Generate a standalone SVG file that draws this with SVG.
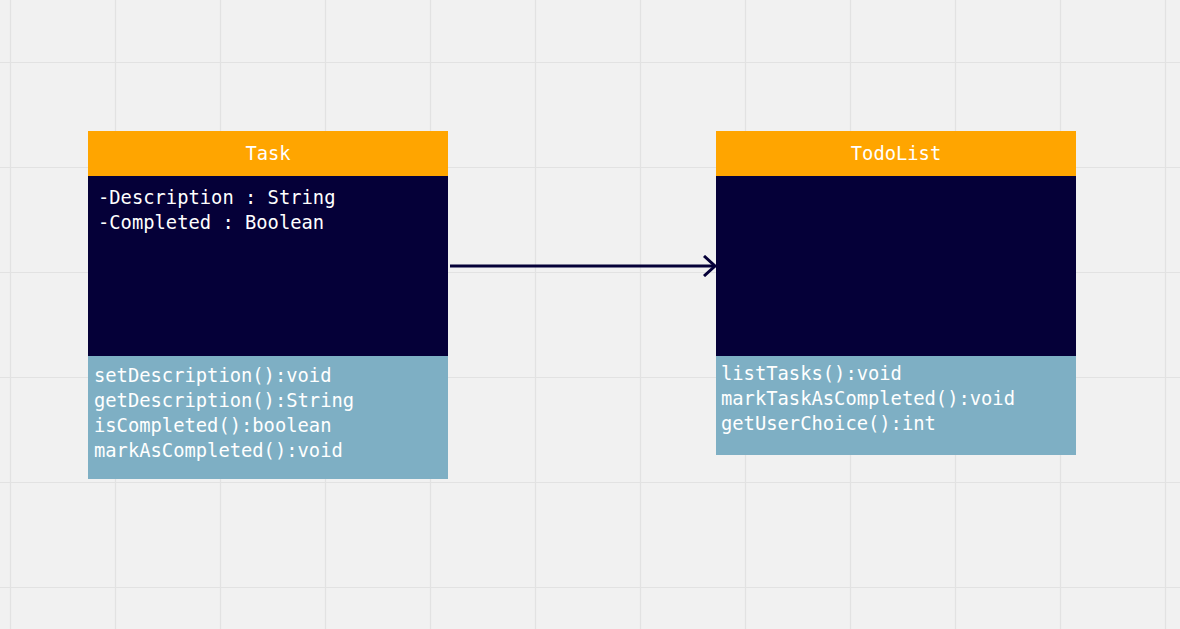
<svg xmlns="http://www.w3.org/2000/svg" width="1180" height="629" viewBox="0 0 1180 629">
<defs>
<style>
.grid{stroke:#e2e2e2;stroke-width:1.2;fill:none}
.hdr{fill:#ffa500}
.body{fill:#050038}
.meth{fill:#7eafc4}
.t{font-family:"DejaVu Sans Mono","Liberation Mono",monospace;font-size:18.8px;fill:#ffffff}
.title{text-anchor:middle}
.conn{stroke:#050038;stroke-width:3;fill:none}
</style>
<marker id="arr" markerWidth="14" markerHeight="22" refX="12" refY="11" orient="auto" markerUnits="userSpaceOnUse">
<path d="M1,1 L12,11 L1,21" stroke="#050038" stroke-width="3" fill="none"/>
</marker>
</defs>
<rect width="1180" height="629" fill="#f1f1f1"/>
<g id="grid" class="grid">
<path d="M10.5,0V629M115.5,0V629M220.5,0V629M325.5,0V629M430.5,0V629M535.5,0V629M640.5,0V629M745.5,0V629M850.5,0V629M955.5,0V629M1060.5,0V629M1165.5,0V629"/>
<path d="M0,62.5H1180M0,167.5H1180M0,272.5H1180M0,377.5H1180M0,482.5H1180M0,587.5H1180"/>
</g>
<g id="connectors">
<line class="conn" x1="450" y1="266" x2="715" y2="266" marker-end="url(#arr)"/>
</g>
<g id="task">
<rect class="hdr" x="88" y="131" width="360" height="45"/>
<rect class="body" x="88" y="176" width="360" height="180"/>
<rect class="meth" x="88" y="356" width="360" height="123"/>
<text class="t title" x="268" y="160">Task</text>
<text class="t" x="98" y="204">-Description : String</text>
<text class="t" x="98" y="229">-Completed : Boolean</text>
<text class="t" x="94" y="382">setDescription():void</text>
<text class="t" x="94" y="407">getDescription():String</text>
<text class="t" x="94" y="432">isCompleted():boolean</text>
<text class="t" x="94" y="457">markAsCompleted():void</text>
</g>
<g id="todolist">
<rect class="hdr" x="716" y="131" width="360" height="45"/>
<rect class="body" x="716" y="176" width="360" height="180"/>
<rect class="meth" x="716" y="356" width="360" height="99"/>
<text class="t title" x="896" y="160">TodoList</text>
<text class="t" x="721" y="380">listTasks():void</text>
<text class="t" x="721" y="405">markTaskAsCompleted():void</text>
<text class="t" x="721" y="430">getUserChoice():int</text>
</g>
</svg>
